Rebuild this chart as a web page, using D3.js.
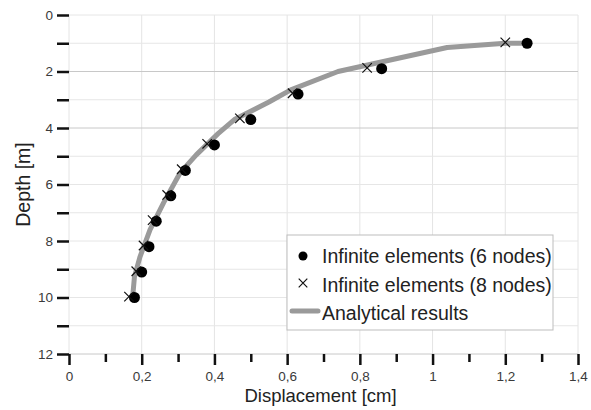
<!DOCTYPE html>
<html lang="en">
<head>
<meta charset="UTF-8">
<title>Depth vs displacement</title>
<script src="https://d3js.org/d3.v7.min.js"></script>
<style>
  body { margin: 0; background: #fff; }
  text { font-family: "Liberation Sans", Arial, sans-serif; }
</style>
</head>
<body>
<script>

// data
const depth6 = [1.0, 1.9, 2.8, 3.7, 4.6, 5.5, 6.4, 7.3, 8.2, 9.1, 10.0];
const disp6  = [1.26, 0.86, 0.63, 0.50, 0.40, 0.32, 0.28, 0.24, 0.22, 0.20, 0.18];

const depth8 = [0.97, 1.87, 2.77, 3.66, 4.56, 5.46, 6.37, 7.26, 8.16, 9.07, 9.97];
const disp8  = [1.20, 0.82, 0.615, 0.47, 0.38, 0.31, 0.27, 0.23, 0.205, 0.185, 0.165];

const depthA = [1.0, 1.0, 1.15, 2.0, 2.65, 3.08, 3.7, 4.2, 4.95, 5.6, 6.65, 7.6, 8.57, 9.27, 10.0];
const dispA  = [1.26, 1.2, 1.04, 0.74, 0.61, 0.55, 0.455, 0.41, 0.35, 0.305, 0.26, 0.223, 0.195, 0.18, 0.175];

const xTicks = [0, 0.1, 0.2, 0.3, 0.4, 0.5, 0.6, 0.7, 0.8, 0.9, 1.0, 1.1, 1.2, 1.3, 1.4];
const yTicks = [0, 1, 2, 3, 4, 5, 6, 7, 8, 9, 10, 11, 12];
const legendLabels = ["Infinite elements (6 nodes)", "Infinite elements (8 nodes)", "Analytical results"];

const W = 591, H = 410;
const pLeft = 69, pRight = 578, pTop = 15, pBottom = 354;

var svg = d3.select("body").append("svg")
    .attr("width", W)
    .attr("height", H);

var x = d3.scaleLinear().domain([0, 1.4]).range([pLeft, pRight]);
var y = d3.scaleLinear().domain([0, 12]).range([pTop, pBottom]);

const fmt = v => (Math.round(v * 10) / 10).toString().replace(".", ",");

// grid
svg.append("g").selectAll("line")
    .data(xTicks.filter((d, i) => i % 2 == 0))
    .enter().append("line")
    .attr("x1", d => x(d)).attr("x2", d => x(d))
    .attr("y1", pTop).attr("y2", pBottom)
    .attr("stroke", "#e4e4e4").attr("stroke-width", 1);

svg.append("g").selectAll("line")
    .data(yTicks)
    .enter().append("line")
    .attr("x1", pLeft).attr("x2", pRight)
    .attr("y1", d => y(d)).attr("y2", d => y(d))
    .attr("stroke", d => (d == 2 || d == 4 || d == 12) ? "#c8c8c8" : "#e6e6e6")
    .attr("stroke-width", 1);

// y axis: ticks only, labels on even values
var yAxis = d3.axisLeft(y)
    .tickValues(yTicks)
    .tickSize(12)
    .tickPadding(4)
    .tickFormat(d => d % 2 == 0 ? d : "");
var gy = svg.append("g")
    .attr("transform", "translate(" + pLeft + ",0)")
    .call(yAxis);
gy.select(".domain").remove();
gy.selectAll(".tick line").attr("stroke", "#111").attr("stroke-width", 2.5);
gy.selectAll(".tick text")
    .attr("font-size", 13.5)
    .attr("fill", "#3a3a3a")
    .attr("font-family", "Liberation Sans, Arial, sans-serif");

// x axis
var xAxis = d3.axisBottom(x)
    .tickValues(xTicks)
    .tickSize(11)
    .tickPadding(6)
    .tickFormat((d, i) => i % 2 == 0 ? fmt(d) : "");
var gx = svg.append("g")
    .attr("transform", "translate(0," + pBottom + ")")
    .call(xAxis);
gx.select(".domain").remove();
gx.selectAll(".tick line")
    .attr("stroke", "#111").attr("stroke-width", 2.5)
    .attr("y2", (d, i) => i % 2 == 0 ? 11 : 8);
gx.selectAll(".tick text")
    .attr("font-size", 13.5)
    .attr("fill", "#3a3a3a")
    .attr("font-family", "Liberation Sans, Arial, sans-serif");

// axis titles
svg.append("text")
    .attr("x", (pLeft + pRight) / 2 - 3)
    .attr("y", 402)
    .attr("text-anchor", "middle")
    .attr("font-size", 18.5)
    .attr("fill", "#222")
    .text("Displacement [cm]");

svg.append("text")
    .attr("transform", "translate(30," + ((pTop + pBottom) / 2) + ") rotate(-90)")
    .attr("text-anchor", "middle")
    .attr("font-size", 19.5)
    .attr("fill", "#222")
    .text("Depth [m]");

// analytical line
var line = d3.line()
    .x(d => x(d[0]))
    .y(d => y(d[1]));
svg.append("path")
    .datum(dispA.map((v, i) => [v, depthA[i]]))
    .attr("d", line)
    .attr("fill", "none")
    .attr("stroke", "#9a9a9a")
    .attr("stroke-width", 5)
    .attr("stroke-linejoin", "round");

// 6 nodes: filled circles
svg.append("g").selectAll("circle")
    .data(disp6.map((v, i) => [v, depth6[i]]))
    .enter().append("circle")
    .attr("cx", d => x(d[0]))
    .attr("cy", d => y(d[1]))
    .attr("r", 5.5)
    .attr("fill", "#000");

// 8 nodes: crosses
var cross = d3.symbol().type(d3.symbolX).size(60);
svg.append("g").selectAll("path")
    .data(disp8.map((v, i) => [v, depth8[i]]))
    .enter().append("path")
    .attr("transform", d => "translate(" + x(d[0]) + "," + y(d[1]) + ")")
    .attr("d", cross)
    .attr("fill", "none")
    .attr("stroke", "#111")
    .attr("stroke-width", 1.2);

// legend
var lg = svg.append("g").attr("transform", "translate(287,235)");
lg.append("rect")
    .attr("width", 266).attr("height", 95)
    .attr("fill", "#fff")
    .attr("stroke", "#bdbdbd").attr("stroke-width", 1);

lg.append("circle").attr("cx", 16).attr("cy", 21).attr("r", 4.5).attr("fill", "#000");
lg.append("path")
    .attr("transform", "translate(16,48)")
    .attr("d", d3.symbol().type(d3.symbolX).size(50))
    .attr("fill", "none").attr("stroke", "#111").attr("stroke-width", 1.2);
lg.append("line")
    .attr("x1", 5).attr("x2", 31).attr("y1", 76).attr("y2", 76)
    .attr("stroke", "#9a9a9a").attr("stroke-width", 5).attr("stroke-linecap", "round");

lg.selectAll(".legend-text")
    .data(legendLabels)
    .enter().append("text")
    .attr("class", "legend-text")
    .attr("x", 35)
    .attr("y", (d, i) => 28 + i * 28.5)
    .attr("font-size", 19.5)
    .attr("fill", "#222")
    .text(d => d);

</script>
</body>
</html>
